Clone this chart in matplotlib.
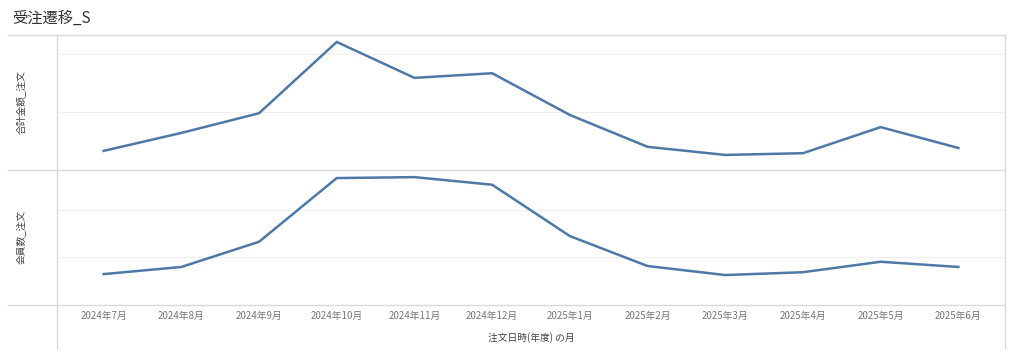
import matplotlib.pyplot as plt
from matplotlib.lines import Line2D

plt.rcParams['font.family'] = ['Noto Sans CJK JP', 'DejaVu Sans']

# 月ラベル
months = ['2024年7月', '2024年8月', '2024年9月', '2024年10月', '2024年11月', '2024年12月',
          '2025年1月', '2025年2月', '2025年3月', '2025年4月', '2025年5月', '2025年6月']
# 合計金額_注文 (円, 目盛りなしのため推定)
amount = [330000, 640000, 980000, 2210000, 1590000, 1670000,
          950000, 400000, 260000, 290000, 740000, 380000]
# 会員数_注文
members = [65, 80, 133, 267, 269, 253, 145, 82, 63, 69, 91, 80]

line_color = '#4e79a7'
grid_color = '#efefef'
frame_color = '#d9d9d9'
W, H = 1024, 358

fig = plt.figure(figsize=(W / 100, H / 100), dpi=100)
left, right = 57 / W, 1005 / W
ax1 = fig.add_axes([left, (H - 170) / H, right - left, 135 / H])
ax2 = fig.add_axes([left, (H - 305) / H, right - left, 135 / H])

x = list(range(len(months)))
ax1.plot(x, amount, color=line_color, lw=1.8, solid_joinstyle='miter')
ax2.plot(x, members, color=line_color, lw=1.8, solid_joinstyle='miter')

ax1.set_ylim(0, 2330000)
ax1.set_yticks([1000000, 2000000])
ax2.set_ylim(0, 284)
ax2.set_yticks([100, 200])

for ax in (ax1, ax2):
    ax.set_xlim(-0.6, len(months) - 0.4)
    ax.grid(axis='y', color=grid_color, lw=0.8)
    ax.set_axisbelow(True)
    ax.tick_params(left=False, labelleft=False, bottom=False)
    for s in ax.spines.values():
        s.set_visible(False)

ax1.set_xticks([])
ax2.set_xticks(x)
ax2.set_xticklabels(months, fontsize=7, color='#777777')
ax2.tick_params(axis='x', pad=1)
ax2.set_xlabel('注文日時(年度) の月', fontsize=7, color='#444444', labelpad=8)

fig.text(22 / W, 1 - 102 / H, '合計金額_注文', rotation=90, fontsize=7,
         color='#444444', ha='center', va='center')
fig.text(22 / W, 1 - 237 / H, '会員数_注文', rotation=90, fontsize=7,
         color='#444444', ha='center', va='center')
fig.text(12 / W, 1 - 18 / H, '受注遷移_S', fontsize=11, color='#333333',
         ha='left', va='center')

# 枠線
def hline(y, x0, x1):
    fig.add_artist(Line2D([x0 / W, x1 / W], [1 - y / H, 1 - y / H], color=frame_color, lw=1))

def vline(xp, y0, y1):
    fig.add_artist(Line2D([xp / W, xp / W], [1 - y0 / H, 1 - y1 / H], color=frame_color, lw=1))

hline(35, 8, 1005)
hline(170, 8, 1005)
hline(305, 8, 1005)
vline(57, 35, 348)
vline(1005, 35, 348)

fig.savefig('out.png', dpi=100, facecolor='white')
